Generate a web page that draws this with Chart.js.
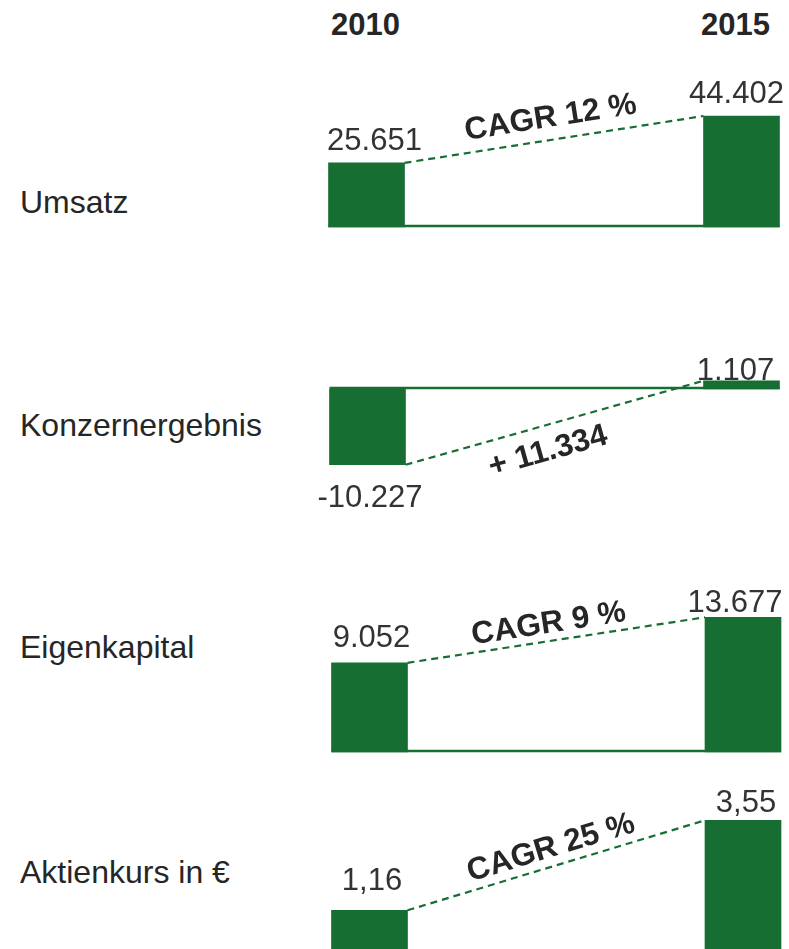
<!DOCTYPE html>
<html lang="de">
<head>
<meta charset="utf-8">
<title>Kennzahlen 2010 – 2015</title>
<script src="https://cdn.jsdelivr.net/npm/chart.js@4/dist/chart.umd.min.js"></script>
<style>
  html, body { margin: 0; padding: 0; background: #fff; }
  body { width: 789px; height: 949px; overflow: hidden; position: relative;
         font-family: "Liberation Sans", Arial, sans-serif; color: #262626; }
  .year { position: absolute; top: 9px; font-size: 31px; line-height: 1; font-weight: bold; }
  .row-label { position: absolute; left: 20px; font-size: 32px; line-height: 1; }
  canvas { position: absolute; left: 0; }
</style>
</head>
<body>
<div class="year" style="left:331px">2010</div>
<div class="year" style="left:701px">2015</div>
<div id="labels"></div>

<script>
// Daten
const years = ['2010', '2015'];
const rowLabels = ['Umsatz', 'Konzernergebnis', 'Eigenkapital', 'Aktienkurs in €'];
const umsatz = [25651, 44402];
const konzernergebnis = [-10227, 1107];
const eigenkapital = [9052, 13677];
const aktienkurs = [1.16, 3.55];
const growthLabels = ['CAGR 12 %', '+ 11.334', 'CAGR 9 %', 'CAGR 25 %'];

const GREEN = '#166e33';

const fmtInt = new Intl.NumberFormat('de-DE', { maximumFractionDigits: 0 });
const fmtDec = new Intl.NumberFormat('de-DE', { minimumFractionDigits: 2, maximumFractionDigits: 2 });

// layout per row (canvas geometry, scale range, label nudges)
const panels = [
  { data: umsatz, fmt: fmtInt, top: 60, height: 190, pad: { left: 366.5, right: 47.5, top: 17, bottom: 23 },
    min: 0, max: 60000, labelTop: 186, nudge: [[8, 13], [-5, 13]], growth: [0, 21.8], baseline: true },
  { data: konzernergebnis, fmt: fmtInt, top: 340, height: 190, pad: { left: 367.5, right: 47.5, top: 10, bottom: 20 },
    min: -16335, max: 5265, labelTop: 409, nudge: [[2.5, 42], [-6, 1]], growth: [-14, -26], baseline: true },
  { data: eigenkapital, fmt: fmtInt, top: 570, height: 200, pad: { left: 369.5, right: 46, top: 22, bottom: 18 },
    min: 0, max: 16240, labelTop: 631, nudge: [[2, 16], [-8, 5]], growth: [-5, 17], baseline: true },
  { data: aktienkurs, fmt: fmtDec, top: 790, height: 170, pad: { left: 369.5, right: 46, top: 10, bottom: 6 },
    min: 0, max: 4.089, labelTop: 855.5, nudge: [[2.5, 20], [3, 8]], growth: [0, 18], baseline: false }
];

// Plugin: baseline, dashed connector, value labels and growth label
const connectorPlugin = {
  id: 'connector',
  afterDatasetsDraw(chart, args, opts) {
    const ctx = chart.ctx;
    const bars = chart.getDatasetMeta(0).data;
    const b1 = bars[0], b2 = bars[1];
    const w = b1.width;
    const zeroY = chart.scales.y.getPixelForValue(0);

    ctx.save();
    if (opts.baseline) {
      ctx.strokeStyle = GREEN;
      ctx.lineWidth = 2.5;
      ctx.beginPath();
      ctx.moveTo(b1.x - w / 2, zeroY - 1);
      ctx.lineTo(b2.x + w / 2, zeroY - 1);
      ctx.stroke();
    }

    // dashed line from the end of bar 1 to the end of bar 2
    const x1 = b1.x + w / 2, y1 = b1.y;
    const x2 = b2.x - w / 2, y2 = b2.y;
    ctx.strokeStyle = GREEN;
    ctx.lineWidth = 2.2;
    ctx.setLineDash([7, 5]);
    ctx.beginPath();
    ctx.moveTo(x1, y1);
    ctx.lineTo(x2, y2);
    ctx.stroke();
    ctx.setLineDash([]);

    // value labels
    ctx.fillStyle = '#333';
    ctx.font = '31px "Liberation Sans", Arial, sans-serif';
    ctx.textAlign = 'center';
    ctx.textBaseline = 'alphabetic';
    bars.forEach((bar, i) => {
      const v = chart.data.datasets[0].data[i];
      const [dx, gap] = opts.nudge[i];
      const y = v < 0 ? bar.y + gap : bar.y - gap;
      ctx.fillText(opts.fmt.format(v), bar.x + dx, y);
    });

    // growth label, rotated along the connector
    const ang = Math.atan2(y2 - y1, x2 - x1);
    const [along, normal] = opts.growth;
    const mx = (x1 + x2) / 2 + Math.cos(ang) * along + Math.sin(ang) * normal;
    const my = (y1 + y2) / 2 + Math.sin(ang) * along - Math.cos(ang) * normal;
    ctx.translate(mx, my);
    ctx.rotate(ang);
    ctx.fillStyle = '#262626';
    ctx.font = 'bold 31.5px "Liberation Sans", Arial, sans-serif';
    ctx.textBaseline = 'middle';
    ctx.fillText(opts.text, 0, 0);
    ctx.restore();
  }
};

const labelBox = document.getElementById('labels');

panels.forEach((p, i) => {
  const lbl = document.createElement('div');
  lbl.className = 'row-label';
  lbl.style.top = p.labelTop + 'px';
  lbl.textContent = rowLabels[i];
  labelBox.appendChild(lbl);

  const canvas = document.createElement('canvas');
  canvas.width = 789;
  canvas.height = p.height;
  canvas.style.top = p.top + 'px';
  document.body.appendChild(canvas);

  new Chart(canvas.getContext('2d'), {
    type: 'bar',
    data: {
      labels: years,
      datasets: [{
        data: p.data,
        backgroundColor: GREEN,
        borderWidth: 0,
        barThickness: 76,
        clip: false
      }]
    },
    options: {
      responsive: false,
      animation: false,
      layout: { padding: p.pad },
      plugins: {
        legend: { display: false },
        tooltip: { enabled: false },
        connector: { fmt: p.fmt, nudge: p.nudge, growth: p.growth, baseline: p.baseline, text: growthLabels[i] }
      },
      scales: {
        x: { type: 'category', offset: false, display: false, grid: { offset: false } },
        y: { min: p.min, max: p.max, display: false }
      }
    },
    plugins: [connectorPlugin]
  });
});
</script>
</body>
</html>
